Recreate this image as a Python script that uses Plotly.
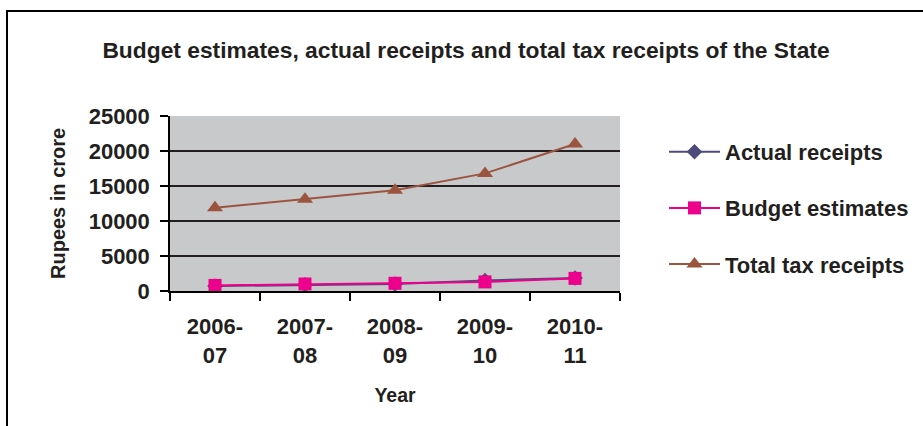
import plotly.graph_objects as go

years = ["2006-<br>07", "2007-<br>08", "2008-<br>09", "2009-<br>10", "2010-<br>11"]
actual_receipts = [700, 900, 1000, 1500, 1850]
budget_estimates = [800, 1000, 1100, 1300, 1800]
total_tax_receipts = [11900, 13100, 14400, 16800, 21000]
series_names = ["Actual receipts", "Budget estimates", "Total tax receipts"]

txt = "#231f20"
font_fam = "Liberation Sans, Arial, sans-serif"

fig = go.Figure()
fig.add_trace(go.Scatter(x=years, y=actual_receipts, name="<b>%s</b>" % series_names[0], mode="lines+markers",
                         line=dict(color="#4f4a7c", width=2), marker=dict(symbol="diamond", size=12, color="#4f4a7c"),
                         legendgroup="a"))
fig.add_trace(go.Scatter(x=years, y=budget_estimates, name="<b>%s</b>" % series_names[1], mode="lines+markers",
                         line=dict(color="#ec008c", width=2), marker=dict(symbol="square", size=13, color="#ec008c"),
                         legendgroup="b"))
fig.add_trace(go.Scatter(x=years, y=total_tax_receipts, name="<b>%s</b>" % series_names[2], mode="lines+markers",
                         line=dict(color="#9b553f", width=2), marker=dict(symbol="triangle-up", size=14, color="#9b553f"),
                         legendgroup="c"))

L, R, T, B = 170, 620, 116, 291
W, H = 923, 426
pw, ph = R - L, B - T

def px(x):
    return (x - L) / pw

def py(y):
    return (B - y) / ph

fig.update_layout(
    width=W, height=H,
    margin=dict(l=L, r=W - R, t=T, b=H - B, autoexpand=False),
    paper_bgcolor="white",
    plot_bgcolor="#c8c9cb",
    font=dict(family=font_fam, color=txt),
    title=dict(text="<b>Budget estimates, actual receipts and total tax receipts of the State</b>",
               x=px(466), xref="paper", xanchor="center", y=1 - 50 / H, yref="container", yanchor="middle",
               font=dict(size=22.8, color=txt)),
    showlegend=True,
    legend=dict(x=px(664), y=py(131), xanchor="left", yanchor="top", bgcolor="rgba(0,0,0,0)",
                font=dict(size=22, color=txt, family=font_fam), tracegroupgap=24.5, itemwidth=51),
    shapes=[dict(type="rect", xref="paper", yref="paper", x0=px(7), x1=px(930), y0=py(11), y1=py(440),
                 line=dict(color="black", width=2), fillcolor="rgba(0,0,0,0)", layer="below")],
    annotations=[dict(text="<b>Rupees in crore</b>", xref="paper", yref="paper", x=px(58), y=py(204),
                      xanchor="center", yanchor="middle", textangle=-90, showarrow=False,
                      font=dict(size=20, color=txt))],
)
fig.update_xaxes(
    type="category", range=[-0.5, 4.5], tickson="boundaries", ticks="outside", ticklen=8, tickcolor="black",
    tickwidth=1.5, showline=True, linecolor="black", linewidth=1.5, showgrid=False, automargin=False,
    tickfont=dict(size=22, color=txt), ticklabelstandoff=15,
    tickprefix="<b>", ticksuffix="</b>",
    title=dict(text="<b>Year</b>", font=dict(size=19.5, color=txt), standoff=22),
)
fig.update_yaxes(
    range=[0, 25000], dtick=5000, tickformat="d", ticks="outside", ticklen=8, tickcolor="black", tickwidth=1.5,
    showline=True, linecolor="black", linewidth=1.5, showgrid=True, gridcolor="#231f20", gridwidth=1.6,
    zeroline=False, automargin=False, tickfont=dict(size=22, color=txt), tickprefix="<b>", ticksuffix="</b>",
    ticklabelstandoff=6,
)
fig.write_html("out.html", post_script="document.body.style.margin='0';",
               config={"displayModeBar": False})
